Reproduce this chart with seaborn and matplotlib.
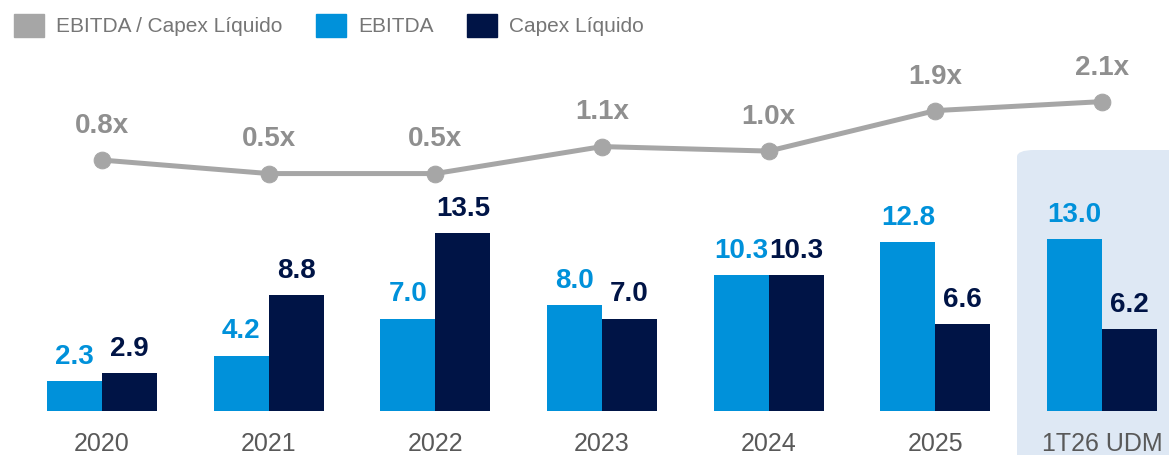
import numpy as np
import pandas as pd
import seaborn as sns
from matplotlib import pyplot as plt
from matplotlib.patches import Patch, FancyBboxPatch

periods = ["2020", "2021", "2022", "2023", "2024", "2025", "1T26 UDM"]
ebitda = [2.3, 4.2, 7.0, 8.0, 10.3, 12.8, 13.0]
capex = [2.9, 8.8, 13.5, 7.0, 10.3, 6.6, 6.2]
ratio = [0.8, 0.5, 0.5, 1.1, 1.0, 1.9, 2.1]
ratio_labels = ["0.8x", "0.5x", "0.5x", "1.1x", "1.0x", "1.9x", "2.1x"]

c_ebitda = "#0091DA"
c_capex = "#001446"
c_ratio = "#A6A6A6"
c_text = "#595959"

sns.set_theme(style="white")
plt.rcParams["font.family"] = ["Liberation Sans", "DejaVu Sans"]

df = pd.DataFrame({"period": periods, "EBITDA": ebitda, "Capex Líquido": capex})
bars = df.melt(id_vars="period", var_name="serie", value_name="valor")

fig = plt.figure(figsize=(11.69, 4.55), dpi=100)
ax = fig.add_axes([0.016, 44 / 455, 0.998, 371 / 455])
ax.set_facecolor("none")

# highlighted last period
box = FancyBboxPatch((1017 / 1169, -0.1), 0.3, 0.1 + (455 - 150) / 455,
                     boxstyle="round,pad=0,rounding_size=0.015",
                     transform=fig.transFigure, facecolor="#DEE8F4",
                     edgecolor="none", zorder=-5)
fig.patches.append(box)

sns.barplot(data=bars, x="period", y="valor", hue="serie",
            palette=[c_ebitda, c_capex], width=0.66, gap=0,
            saturation=1, linewidth=0, legend=False, ax=ax)
ax.set_xlim(-0.5, 6.5)
ax.set_ylim(0, 28.1)
for cont, col in zip(ax.containers, [c_ebitda, c_capex]):
    ax.bar_label(cont, fmt="%.1f", padding=8, color=col,
                 fontsize=20, fontweight="bold")

ax2 = ax.twinx()
sns.lineplot(x=np.arange(len(periods)), y=ratio, color=c_ratio, lw=3.6,
             marker="o", markersize=12, markeredgecolor=c_ratio, ax=ax2)
ax2.set_ylim(-4.78, 3.47)
for i, (v, t) in enumerate(zip(ratio, ratio_labels)):
    ax2.annotate(t, (i, v), xytext=(0, 19.5), textcoords="offset points",
                 ha="center", va="baseline", color="#8F8F8F",
                 fontsize=20, fontweight="bold")

for a in (ax, ax2):
    for s in a.spines.values():
        s.set_visible(False)
    a.set_yticks([])
    a.set_ylabel("")
ax.set_xlabel("")
ax.tick_params(axis="x", length=0, pad=15, labelsize=18, labelcolor=c_text)

handles = [Patch(color=c_ratio), Patch(color=c_ebitda), Patch(color=c_capex)]
fig.legend(handles, ["EBITDA / Capex Líquido", "EBITDA", "Capex Líquido"],
           loc="upper left", bbox_to_anchor=(-0.004, 1.011), ncol=3,
           frameon=False, fontsize=15, labelcolor="#767676",
           handlelength=1.45, handleheight=1.35, columnspacing=1.6,
           handletextpad=0.58)

fig.savefig("out.png", dpi=100)
